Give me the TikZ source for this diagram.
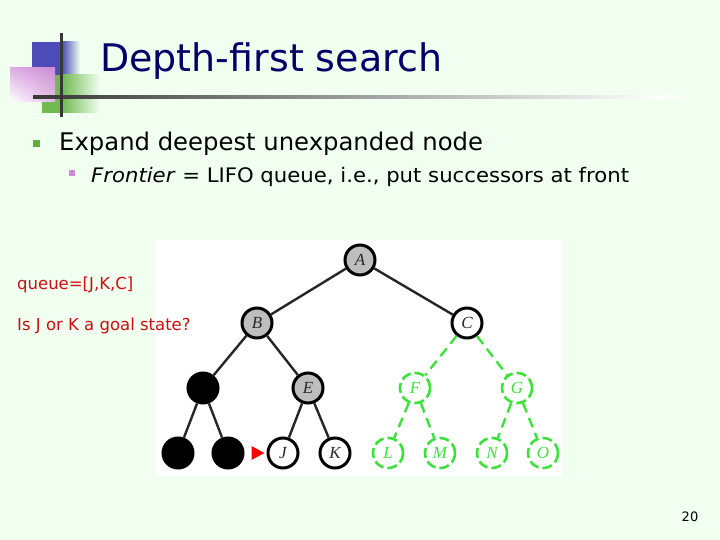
\documentclass[tikz,border=0pt]{standalone}
\usepackage{fontspec}
\setmainfont{DejaVu Sans}
\newfontfamily\lblfont{Liberation Serif}
\usetikzlibrary{shadings}
\definecolor{bg}{RGB}{240,255,240}
\definecolor{navy}{RGB}{0,0,102}
\definecolor{blueD}{RGB}{76,76,184}
\definecolor{greenD}{RGB}{112,186,82}
\definecolor{pinkD}{RGB}{206,140,214}
\definecolor{lineD}{RGB}{55,55,55}
\definecolor{redT}{RGB}{200,16,16}
\definecolor{nodegray}{RGB}{190,190,190}
\definecolor{treegreen}{RGB}{60,225,60}
\definecolor{bulgreen}{RGB}{100,170,70}
\definecolor{bulpink}{RGB}{200,140,210}
\definecolor{lbl}{RGB}{40,40,40}
\tikzset{
  tn/.style={circle, draw=black, line width=3pt, minimum size=30pt, inner sep=0pt, text=lbl,
    font=\lblfont\itshape\fontsize{17}{17}\selectfont},
  expd/.style={tn, fill=nodegray},
  open/.style={tn, fill=white},
  done/.style={tn, fill=black},
  unseen/.style={tn, draw=treegreen, text=treegreen, dash pattern=on 10pt off 4pt, line width=2.6pt, fill=white},
  solidedge/.style={draw=black!85, line width=2.4pt},
  greenedge/.style={draw=treegreen, line width=2.4pt, dash pattern=on 10pt off 6pt},
  bodytext/.style={anchor=base west, text=black},
  redtext/.style={anchor=base west, text=redT, font=\fontsize{16.5}{17}\selectfont}
}
\begin{document}
\begin{tikzpicture}[x=1pt,y=-1pt]
\useasboundingbox (0,0) rectangle (720,540);
\fill[bg] (0,0) rectangle (720,540);
% logo decoration
\fill[blueD] (32,42) rectangle (62,75);
\shade[left color=blueD, right color=bg] (62,42) rectangle (80,75);
\fill[greenD] (42,75) rectangle (62,113);
\shade[left color=greenD, right color=bg] (62,75) rectangle (100,113);
\shade[lower left=white, upper right=pinkD, lower right=pinkD!60!white, upper left=pinkD!70!white] (10,68) rectangle (55,102);
\shade[left color=lineD, right color=white] (33,96) rectangle (660,99);
\shade[left color=white, right color=bg] (660,96) rectangle (690,99);
\fill[lineD] (60,33) rectangle (63,117);
% title
\node[anchor=base west, text=navy, font=\fontsize{38}{40}\selectfont, inner sep=0pt] (title) at (100,72) {Depth-first search};
% bullets
\fill[bulgreen] (33,140) rectangle (40,147);
\node[bodytext, inner sep=0pt, font=\fontsize{24.3}{26}\selectfont] (b1) at (59,151) {Expand deepest unexpanded node};
\fill[bulpink] (69,170) rectangle (75,176);
\node[bodytext, inner sep=0pt, font=\fontsize{20}{21}\selectfont] (b2) at (91,183) {\scalebox{1.06}[1]{\textit{Frontier} = LIFO queue, i.e., put successors at front}};
% tree panel
\fill[white] (155,240) rectangle (562,476);
\node[expd] (A) at (360,260) {A};
\node[expd] (B) at (257,323) {B};
\node[open] (C) at (467,323) {C};
\node[done] (D) at (203,388) {};
\node[expd] (E) at (308,388) {E};
\node[unseen] (F) at (415,388) {F};
\node[unseen] (G) at (517,388) {G};
\node[done] (H) at (178,453) {};
\node[done] (I) at (228,453) {};
\node[open] (J) at (283,453) {J};
\node[open] (K) at (335,453) {K};
\node[unseen] (L) at (388,453) {L};
\node[unseen] (M) at (440,453) {M};
\node[unseen] (N) at (492,453) {N};
\node[unseen] (O) at (543,453) {O};
\draw[solidedge] (A) -- (B);
\draw[solidedge] (A) -- (C);
\draw[solidedge] (B) -- (D);
\draw[solidedge] (B) -- (E);
\draw[solidedge] (D) -- (H);
\draw[solidedge] (D) -- (I);
\draw[solidedge] (E) -- (J);
\draw[solidedge] (E) -- (K);
\draw[greenedge] (C) -- (F);
\draw[greenedge] (C) -- (G);
\draw[greenedge] (F) -- (L);
\draw[greenedge] (F) -- (M);
\draw[greenedge] (G) -- (N);
\draw[greenedge] (G) -- (O);
% pointer to current node
\coordinate (ptip) at ([xshift=-2pt]J.west);
\fill[red] (ptip) -- ++(-13,-7) -- ++(0,14) -- cycle;
% red notes (on top of the panel)
\node[redtext, inner sep=0pt] (q) at (17,289) {queue=[J,K,C]};
\node[redtext, inner sep=0pt] (goal) at (17,330) {Is J or K a goal state?};
% page number
\node[anchor=base, inner sep=0pt, font=\fontsize{13}{14}\selectfont] (pg) at (690,521) {20};
\end{tikzpicture}
\end{document}
